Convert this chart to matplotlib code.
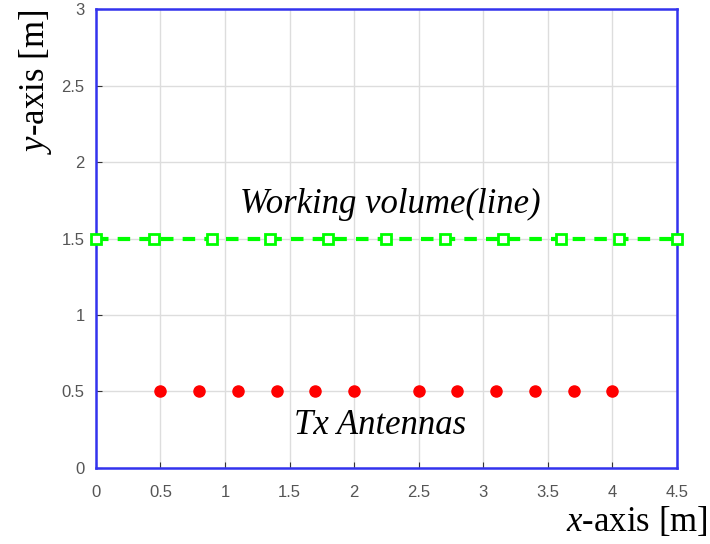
import numpy as np
import matplotlib.pyplot as plt

plt.rcParams['mathtext.fontset'] = 'custom'
plt.rcParams['mathtext.rm'] = 'Liberation Serif'
plt.rcParams['mathtext.it'] = 'Liberation Serif:italic'

# antenna positions along x (all at y = 0.5 m)
tx_x = [0.5, 0.8, 1.1, 1.4, 1.7, 2.0, 2.5, 2.8, 3.1, 3.4, 3.7, 4.0]
tx_y = [0.5] * len(tx_x)

# working volume sample points (line at y = 1.5 m)
wv_x = [0, 0.45, 0.9, 1.35, 1.8, 2.25, 2.7, 3.15, 3.6, 4.05, 4.5]
wv_y = [1.5] * len(wv_x)

xticks = [0, 0.5, 1, 1.5, 2, 2.5, 3, 3.5, 4, 4.5]
yticks = [0, 0.5, 1, 1.5, 2, 2.5, 3]

fig = plt.figure(figsize=(7.1, 5.44), dpi=100)
ax = fig.add_axes([0.135, 0.14, 0.8185, 0.843])

ax.plot(wv_x, wv_y, color='#00ff00', ls='--', lw=3, dashes=(3, 2.2),
        marker='s', ms=7, mfc='white', mec='#00ff00', mew=2, zorder=3,
        clip_on=False)
ax.plot(tx_x, tx_y, 'o', color='red', ms=8, zorder=3)

ax.text(2.28, 1.72, 'Working volume(line)', fontsize=25, style='italic',
        family='Liberation Serif', ha='center', va='center')
ax.text(2.2, 0.28, 'Tx Antennas', fontsize=25, style='italic',
        family='Liberation Serif', ha='center', va='center')

ax.set_xlim(0, 4.5)
ax.set_ylim(0, 3)
ax.set_xticks(xticks)
ax.set_yticks(yticks)
ax.set_xticklabels([f'{t:g}' for t in xticks])
ax.set_yticklabels([f'{t:g}' for t in yticks])
ax.grid(True, color='#dddddd', lw=1)
ax.set_axisbelow(True)
ax.tick_params(direction='in', length=4, color='#333333', labelsize=12,
               labelcolor='#555555')
ax.tick_params(axis='x', pad=12)
ax.tick_params(axis='y', pad=8)
for lab in ax.get_xticklabels() + ax.get_yticklabels():
    lab.set_family('Liberation Sans')
for s in ax.spines.values():
    s.set_color('#3333ee')
    s.set_linewidth(1.8)

fig.text(0.997, 0.04, r'$x$-axis [m]', fontsize=25,
         family='Liberation Serif', ha='right', va='center')
fig.text(0.05, 0.85, r'$y$-axis [m]', fontsize=25,
         family='Liberation Serif', rotation=90, ha='center', va='center')

fig.savefig('out.png', dpi=100)
